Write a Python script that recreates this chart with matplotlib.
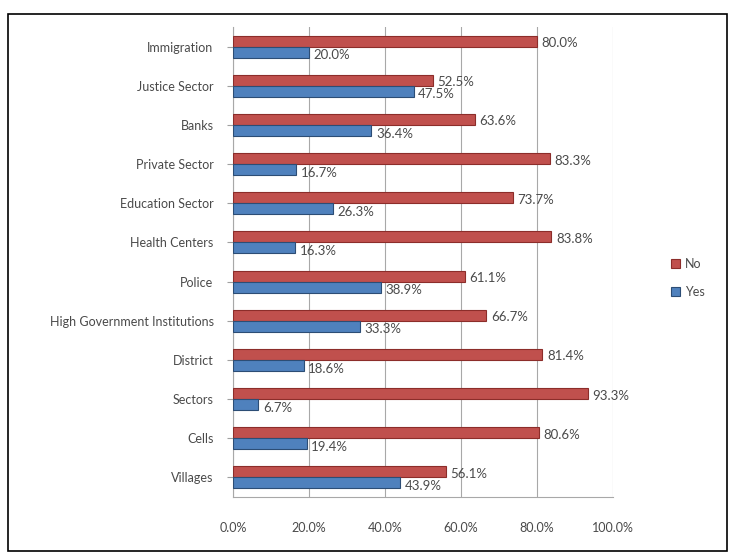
import matplotlib.pyplot as plt
import matplotlib.patches as mpatches
import numpy as np

plt.rcParams['font.family'] = ['Lato', 'DejaVu Sans']

# categories from bottom to top
cats = ["Villages", "Cells", "Sectors", "District", "High Government Institutions",
        "Police", "Health Centers", "Education Sector", "Private Sector", "Banks",
        "Justice Sector", "Immigration"]
no_vals = [56.1, 80.6, 93.3, 81.4, 66.7, 61.1, 83.8, 73.7, 83.3, 63.6, 52.5, 80.0]
yes_vals = [43.9, 19.4, 6.7, 18.6, 33.3, 38.9, 16.3, 26.3, 16.7, 36.4, 47.5, 20.0]
xticks = [0, 20, 40, 60, 80, 100]

red = "#C0504D"
blue = "#4F81BD"

fig = plt.figure(figsize=(7.35, 5.56), dpi=100)
ax = fig.add_axes([233/735, 1-497/556, 380/735, 470/556])

y = np.arange(len(cats))
h = 0.28
ax.barh(y + h/2, no_vals, height=h, color=red, edgecolor="#8C2D2A", linewidth=0.8, label="No", zorder=3)
ax.barh(y - h/2, yes_vals, height=h, color=blue, edgecolor="#2C4D75", linewidth=0.8, label="Yes", zorder=3)

for i in range(len(cats)):
    ax.text(no_vals[i] + 1.2, y[i] + h/2 - 0.05, "%.1f%%" % no_vals[i], va="center", ha="left",
            fontsize=9.5, color="#4A4A4A", zorder=4)
    ax.text(yes_vals[i] + 1.2, y[i] - h/2 - 0.08, "%.1f%%" % yes_vals[i], va="center", ha="left",
            fontsize=9.5, color="#4A4A4A", zorder=4)

ax.set_xlim(0, 100)
ax.set_ylim(-0.5, len(cats) - 0.5)
ax.set_xticks(xticks)
ax.set_xticklabels(["%.1f%%" % v for v in xticks], fontsize=9, color="#4A4A4A")
ax.set_yticks(y)
ax.set_yticklabels(cats, fontsize=9, color="#4A4A4A")
ax.tick_params(axis="x", length=0, pad=18)
ax.tick_params(axis="y", length=4, color="#A0A0A0", pad=10)
ax.grid(axis="x", color="#A8A8A8", linewidth=0.8, zorder=0)
for s in ["top", "right"]:
    ax.spines[s].set_visible(False)
for s in ["left", "bottom"]:
    ax.spines[s].set_color("#A8A8A8")

handles, labels = ax.get_legend_handles_labels()
leg = fig.legend(handles, labels, loc="center left", bbox_to_anchor=(660/735, 1-278/556),
                 frameon=False, fontsize=9, handlelength=0.7, handleheight=0.7,
                 labelspacing=1.3, handletextpad=0.4)
for t in leg.get_texts():
    t.set_color("#4A4A4A")

fig.patches.append(mpatches.Rectangle((8/735, 1-551/556), 719/735, 537/556, transform=fig.transFigure,
                                      fill=False, edgecolor="black", linewidth=1.2))

plt.savefig("out.png", dpi=100)
